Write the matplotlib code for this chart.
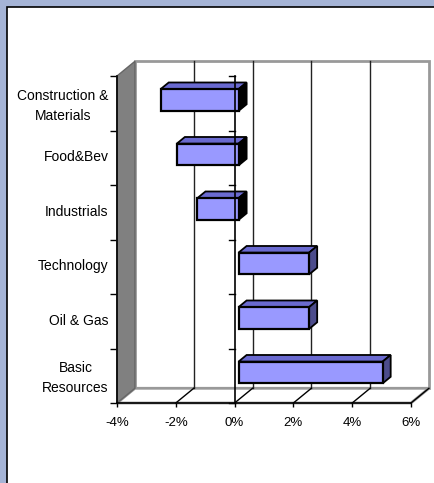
import matplotlib
matplotlib.use("Agg")
import matplotlib.pyplot as plt
from matplotlib.patches import Polygon, Rectangle

plt.rcParams["font.family"] = ["Liberation Sans", "DejaVu Sans"]

# data (top to bottom as drawn)
categories = ["Construction &\nMaterials", "Food&Bev", "Industrials",
              "Technology", "Oil & Gas", "Basic\nResources"]
values = [-2.65, -2.1, -1.4, 2.4, 2.4, 4.9]
xticks = [-4, -2, 0, 2, 4, 6]
xlabels = ["-4%", "-2%", "0%", "2%", "4%", "6%"]

# 3D look: depth offset of the back wall in data units
DX, DY = 0.61, 0.27
D0, D1 = 0.22, 0.67        # bar depth span (fraction of full depth)
BAR_H = 0.4
XMIN, XMAX = xticks[0], xticks[-1]
N = len(categories)

FRONT = "#9999ff"
TOP = "#6a6ad0"
SIDE_POS = "#4c4c8c"
SIDE_NEG = "#000000"

fig = plt.figure(figsize=(4.35, 4.83), dpi=100)
fig.patch.set_facecolor("#a5b4d6")
fig.patches.append(Rectangle((7.5 / 435, -0.1), 1.2, 1.1 - 7.5 / 483,
                             transform=fig.transFigure, facecolor="white",
                             edgecolor="black", lw=1.2, zorder=-10))

ax = fig.add_axes([117 / 435, 1 - 403 / 483, 294 / 435, 327 / 483])
ax.set_xlim(XMIN, XMAX)
ax.set_ylim(0, N)
ax.patch.set_visible(False)
for s in ax.spines.values():
    s.set_visible(False)


def poly(pts, fc, ec, lw, z):
    ax.add_patch(Polygon(pts, closed=True, facecolor=fc, edgecolor=ec,
                         lw=lw, zorder=z, clip_on=False, joinstyle="miter"))


# back wall
poly([(XMIN + DX, DY), (XMAX + DX, DY), (XMAX + DX, N + DY), (XMIN + DX, N + DY)],
     "white", "#999999", 2, 1)
# floor
poly([(XMIN, 0), (XMAX, 0), (XMAX + DX, DY), (XMIN + DX, DY)], "white", "#999999", 2, 1)
# side wall
poly([(XMIN, 0), (XMIN + DX, DY), (XMIN + DX, N + DY), (XMIN, N)], "#808080", "#666666", 1, 2)

# gridlines: back wall + floor
for x in xticks[1:-1]:
    ax.plot([x + DX, x + DX], [DY, N + DY], color="#222222", lw=1, zorder=2, clip_on=False)
for x in xticks[1:]:
    ax.plot([x, x + DX], [0, DY], color="black", lw=1, zorder=3, clip_on=False)

# bars
for i, v in enumerate(values):
    c = N - i - 0.5
    y0, y1 = c - BAR_H / 2, c + BAR_H / 2
    ax0, ay0 = D0 * DX, D0 * DY
    ax1, ay1 = D1 * DX, D1 * DY
    lo, hi = min(0, v), max(0, v)
    side = SIDE_POS if v > 0 else SIDE_NEG
    # top face
    poly([(lo + ax0, y1 + ay0), (hi + ax0, y1 + ay0), (hi + ax1, y1 + ay1), (lo + ax1, y1 + ay1)],
         TOP, "black", 1.3, 4)
    # right end face
    poly([(hi + ax0, y0 + ay0), (hi + ax1, y0 + ay1), (hi + ax1, y1 + ay1), (hi + ax0, y1 + ay0)],
         side, "black", 1.3, 4)
    # front face
    poly([(lo + ax0, y0 + ay0), (hi + ax0, y0 + ay0), (hi + ax0, y1 + ay0), (lo + ax0, y1 + ay0)],
         FRONT, "black", 1.6, 5)

# axes lines
ax.plot([XMIN, XMAX], [0, 0], color="black", lw=1.2, zorder=6, clip_on=False)
ax.plot([XMIN, XMIN], [0, N], color="black", lw=1.2, zorder=6, clip_on=False)
ax.plot([0, 0], [0, N], color="black", lw=1.2, zorder=6, clip_on=False)
for k in range(N + 1):
    ax.plot([-0.18, 0], [k, k], color="black", lw=1, zorder=6, clip_on=False)

ax.set_xticks(xticks, xlabels, fontsize=9.5)
ax.tick_params(axis="x", length=3, width=1, pad=7)
ax.set_yticks(range(N + 1))
ax.set_yticklabels([])
ax.tick_params(axis="y", length=5, width=1)
ax.set_yticks([N - i - 0.46 for i in range(N)], categories, minor=True, fontsize=10)
ax.tick_params(axis="y", which="minor", length=0, pad=6)
for t in ax.get_yticklabels(minor=True):
    t.set_multialignment("center")
    t.set_linespacing(1.55)

fig.savefig("out.png", dpi=100, facecolor=fig.get_facecolor())
